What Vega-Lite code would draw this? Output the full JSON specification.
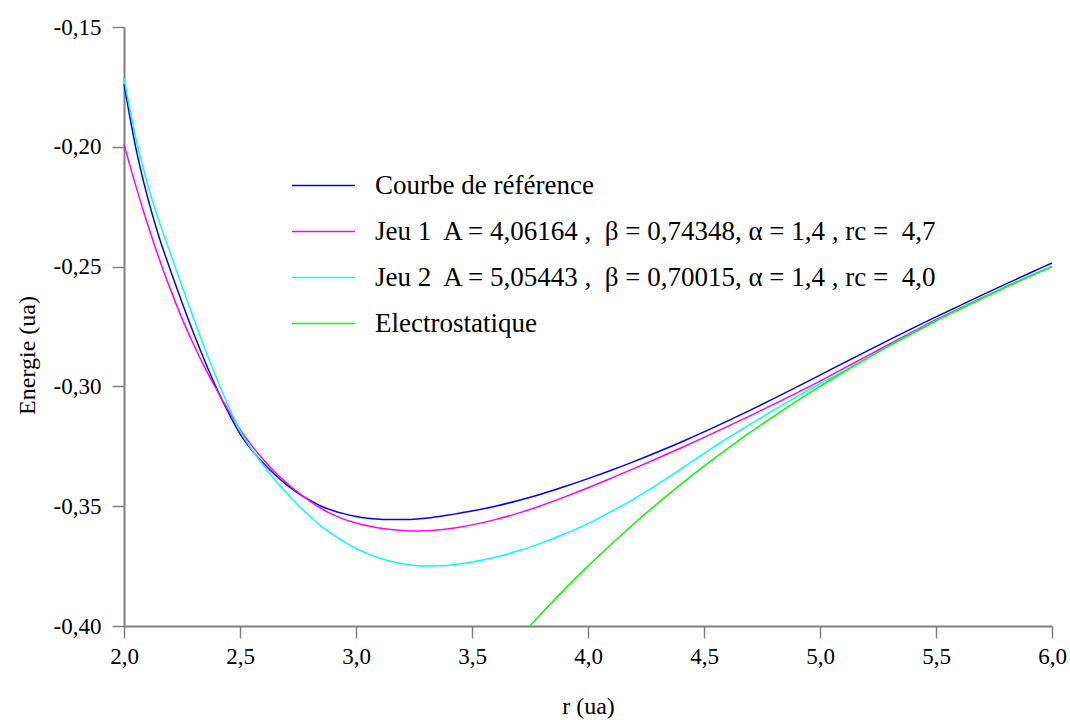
{
  "$schema": "https://vega.github.io/schema/vega-lite/v6.json",
  "width": 928,
  "height": 599,
  "autosize": {"type": "none"},
  "padding": {"left": 124, "top": 27, "right": 18, "bottom": 94},
  "background": "white",
  "config": {
    "view": {"stroke": null},
    "font": "Liberation Serif, Times New Roman, serif",
    "axis": {"labelFont": "Liberation Serif, Times New Roman, serif", "titleFont": "Liberation Serif, Times New Roman, serif"},
    "legend": {"labelFont": "Liberation Serif, Times New Roman, serif"}
  },
  "data": {
    "values": [
      {"r": 2.00, "ref": -0.1738, "j1": -0.1990, "j2": -0.1714},
      {"r": 2.05, "ref": -0.2000, "j1": -0.2160, "j2": -0.1960},
      {"r": 2.10, "ref": -0.2205, "j1": -0.2318, "j2": -0.2150},
      {"r": 2.15, "ref": -0.2373, "j1": -0.2463, "j2": -0.2308},
      {"r": 2.20, "ref": -0.2515, "j1": -0.2595, "j2": -0.2445},
      {"r": 2.25, "ref": -0.2650, "j1": -0.2716, "j2": -0.2582},
      {"r": 2.30, "ref": -0.2778, "j1": -0.2825, "j2": -0.2716},
      {"r": 2.35, "ref": -0.2898, "j1": -0.2925, "j2": -0.2846},
      {"r": 2.40, "ref": -0.3010, "j1": -0.3015, "j2": -0.2968},
      {"r": 2.45, "ref": -0.3110, "j1": -0.3100, "j2": -0.3082},
      {"r": 2.50, "ref": -0.3198, "j1": -0.3180, "j2": -0.3185},
      {"r": 2.55, "ref": -0.3265, "j1": -0.3246, "j2": -0.3262},
      {"r": 2.60, "ref": -0.3320, "j1": -0.3305, "j2": -0.3328},
      {"r": 2.65, "ref": -0.3368, "j1": -0.3357, "j2": -0.3390},
      {"r": 2.70, "ref": -0.3410, "j1": -0.3402, "j2": -0.3445},
      {"r": 2.75, "ref": -0.3445, "j1": -0.3442, "j2": -0.3495},
      {"r": 2.80, "ref": -0.3475, "j1": -0.3478, "j2": -0.3541},
      {"r": 2.85, "ref": -0.3500, "j1": -0.3510, "j2": -0.3583},
      {"r": 2.90, "ref": -0.3518, "j1": -0.3535, "j2": -0.3618},
      {"r": 2.95, "ref": -0.3532, "j1": -0.3555, "j2": -0.3649},
      {"r": 3.00, "ref": -0.3543, "j1": -0.3570, "j2": -0.3676},
      {"r": 3.05, "ref": -0.3550, "j1": -0.3582, "j2": -0.3698},
      {"r": 3.10, "ref": -0.3554, "j1": -0.3591, "j2": -0.3716},
      {"r": 3.15, "ref": -0.3556, "j1": -0.3597, "j2": -0.3730},
      {"r": 3.20, "ref": -0.3556, "j1": -0.3601, "j2": -0.3740},
      {"r": 3.25, "ref": -0.3554, "j1": -0.3603, "j2": -0.3747},
      {"r": 3.30, "ref": -0.3550, "j1": -0.3602, "j2": -0.3750},
      {"r": 3.35, "ref": -0.3544, "j1": -0.3599, "j2": -0.3749},
      {"r": 3.40, "ref": -0.3537, "j1": -0.3594, "j2": -0.3746},
      {"r": 3.45, "ref": -0.3528, "j1": -0.3587, "j2": -0.3740},
      {"r": 3.50, "ref": -0.3520, "j1": -0.3578, "j2": -0.3733},
      {"r": 3.60, "ref": -0.3500, "j1": -0.3556, "j2": -0.3713},
      {"r": 3.70, "ref": -0.3476, "j1": -0.3529, "j2": -0.3686},
      {"r": 3.75, "el": -0.4000},
      {"r": 3.80, "ref": -0.3449, "j1": -0.3497, "j2": -0.3654, "el": -0.3947},
      {"r": 3.90, "ref": -0.3418, "j1": -0.3461, "j2": -0.3615, "el": -0.3846},
      {"r": 4.00, "ref": -0.3385, "j1": -0.3423, "j2": -0.3573, "el": -0.3750},
      {"r": 4.10, "ref": -0.3350, "j1": -0.3383, "j2": -0.3522, "el": -0.3659},
      {"r": 4.20, "ref": -0.3313, "j1": -0.3342, "j2": -0.3468, "el": -0.3571},
      {"r": 4.30, "ref": -0.3274, "j1": -0.3300, "j2": -0.3409, "el": -0.3488},
      {"r": 4.40, "ref": -0.3233, "j1": -0.3257, "j2": -0.3345, "el": -0.3409},
      {"r": 4.50, "ref": -0.3190, "j1": -0.3213, "j2": -0.3280, "el": -0.3333},
      {"r": 4.60, "ref": -0.3145, "j1": -0.3168, "j2": -0.3217, "el": -0.3261},
      {"r": 4.70, "ref": -0.3099, "j1": -0.3122, "j2": -0.3157, "el": -0.3191},
      {"r": 4.80, "ref": -0.3051, "j1": -0.3075, "j2": -0.3099, "el": -0.3125},
      {"r": 4.90, "ref": -0.3002, "j1": -0.3027, "j2": -0.3043, "el": -0.3061},
      {"r": 5.00, "ref": -0.2953, "j1": -0.2978, "j2": -0.2989, "el": -0.3000},
      {"r": 5.10, "ref": -0.2903, "j1": -0.2926, "j2": -0.2938, "el": -0.2941},
      {"r": 5.20, "ref": -0.2854, "j1": -0.2875, "j2": -0.2884, "el": -0.2885},
      {"r": 5.30, "ref": -0.2805, "j1": -0.2823, "j2": -0.2829, "el": -0.2830},
      {"r": 5.40, "ref": -0.2757, "j1": -0.2772, "j2": -0.2777, "el": -0.2778},
      {"r": 5.50, "ref": -0.2710, "j1": -0.2722, "j2": -0.2726, "el": -0.2727},
      {"r": 5.60, "ref": -0.2664, "j1": -0.2676, "j2": -0.2678, "el": -0.2679},
      {"r": 5.70, "ref": -0.2618, "j1": -0.2630, "j2": -0.2631, "el": -0.2632},
      {"r": 5.80, "ref": -0.2573, "j1": -0.2585, "j2": -0.2585, "el": -0.2586},
      {"r": 5.90, "ref": -0.2529, "j1": -0.2542, "j2": -0.2541, "el": -0.2542},
      {"r": 6.00, "ref": -0.2485, "j1": -0.2499, "j2": -0.2499, "el": -0.2500}
    ]
  },
  "transform": [
    {"fold": ["ref", "j1", "j2", "el"], "as": ["series", "E"]},
    {"filter": "isValid(datum.E)"}
  ],
  "mark": {"type": "line", "strokeWidth": 1.5, "interpolate": "monotone"},
  "encoding": {
    "x": {
      "field": "r",
      "type": "quantitative",
      "scale": {"domain": [2, 6], "nice": false, "zero": false},
      "axis": {
        "values": [2, 2.5, 3, 3.5, 4, 4.5, 5, 5.5, 6],
        "labelExpr": "replace(format(datum.value, '.1f'), '.', ',')",
        "title": "r (ua)",
        "grid": false,
        "tickSize": 12,
        "tickWidth": 1.5,
        "tickColor": "#808080",
        "domainColor": "#808080",
        "domainWidth": 2,
        "labelFontSize": 23,
        "labelColor": "black",
        "labelPadding": 7,
        "labelFlush": false,
        "titleFontSize": 24,
        "titleFontWeight": "normal",
        "titleColor": "black",
        "titlePadding": 26
      }
    },
    "y": {
      "field": "E",
      "type": "quantitative",
      "scale": {"domain": [-0.4, -0.15], "nice": false, "zero": false},
      "axis": {
        "values": [-0.4, -0.35, -0.3, -0.25, -0.2, -0.15],
        "labelExpr": "replace(replace(format(datum.value, '.2f'), '\u2212', '-'), '.', ',')",
        "title": "Energie (ua)",
        "grid": false,
        "tickSize": 12,
        "tickWidth": 1.5,
        "tickColor": "#808080",
        "domainColor": "#808080",
        "domainWidth": 2,
        "labelFontSize": 23,
        "labelColor": "black",
        "labelPadding": 11,
        "labelFlush": false,
        "titleFontSize": 24,
        "titleFontWeight": "normal",
        "titleColor": "black",
        "titlePadding": 14,
        "titleY": 328
      }
    },
    "color": {
      "field": "series",
      "type": "nominal",
      "scale": {
        "domain": ["ref", "j1", "j2", "el"],
        "range": ["#0000ff", "#ff00ff", "#00ffff", "#00ff00"]
      },
      "legend": {
        "orient": "none",
        "legendX": 186,
        "legendY": 145,
        "title": null,
        "symbolType": "M-3,0L3,0",
        "symbolSize": 441,
        "symbolStrokeWidth": 1.5,
        "labelFontSize": 27,
        "labelColor": "black",
        "labelOffset": 38,
        "labelLimit": 0,
        "rowPadding": 18,
        "labelExpr": "datum.value == 'ref' ? 'Courbe de référence' : datum.value == 'j1' ? 'Jeu 1\u00a0 A = 4,06164 ,\u00a0 β = 0,74348, α = 1,4 , rc =\u00a0 4,7' : datum.value == 'j2' ? 'Jeu 2\u00a0 A = 5,05443 ,\u00a0 β = 0,70015, α = 1,4 , rc =\u00a0 4,0' : 'Electrostatique'"
      }
    }
  }
}
